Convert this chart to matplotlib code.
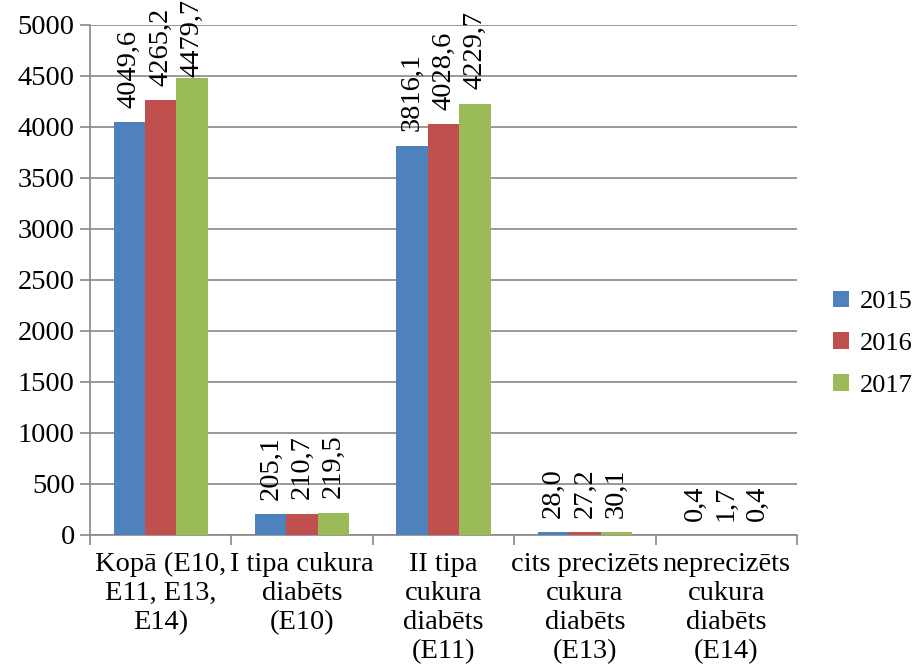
import matplotlib
matplotlib.use("Agg")
import matplotlib.pyplot as plt
import numpy as np

categories = [
    "Kopā (E10,\nE11, E13,\nE14)",
    "I tipa cukura\ndiabēts\n(E10)",
    "II tipa\ncukura\ndiabēts\n(E11)",
    "cits precizēts\ncukura\ndiabēts\n(E13)",
    "neprecizēts\ncukura\ndiabēts\n(E14)",
]
years = ["2015", "2016", "2017"]
values_2015 = [4049.6, 205.1, 3816.1, 28.0, 0.4]
values_2016 = [4265.2, 210.7, 4028.6, 27.2, 1.7]
values_2017 = [4479.7, 219.5, 4229.7, 30.1, 0.4]
yticks = [0, 500, 1000, 1500, 2000, 2500, 3000, 3500, 4000, 4500, 5000]

colors = ["#4F81BD", "#C0504D", "#9BBB59"]
grid_col = "#878787"
fs = 20.5

plt.rcParams["font.family"] = ["Liberation Serif", "DejaVu Serif"]
plt.rcParams["font.size"] = fs

fig = plt.figure(figsize=(9.14, 6.70), dpi=100)
ax = fig.add_axes([0.0985, 0.2015, 0.7735, 0.7612])

x = np.arange(len(categories))
w = 0.222
series = [values_2015, values_2016, values_2017]
for i, vals in enumerate(series):
    pos = x + (i - 1) * w
    ax.bar(pos, vals, width=w, color=colors[i], label=years[i], zorder=3)
    for p, v in zip(pos, vals):
        txt = f"{v:.1f}".replace(".", ",")
        # keep the top label inside the figure
        y = min(v + 140, 4490)
        ax.text(p, y, txt, rotation=90, ha="center", va="bottom",
                fontsize=fs, clip_on=False, zorder=4)

ax.set_xlim(-0.5, len(categories) - 0.5)
ax.set_ylim(0, 5000)
ax.set_yticks(yticks)
ax.yaxis.grid(True, color=grid_col, linewidth=1.2, zorder=0)

ax.set_xticks(x)
ax.set_xticklabels(categories, linespacing=1.22)
ax.set_xticks(np.arange(len(categories) + 1) - 0.5, minor=True)
ax.tick_params(axis="x", which="major", length=0, pad=12)
ax.tick_params(axis="x", which="minor", length=7, color=grid_col, width=1.2)
ax.tick_params(axis="y", length=7, color=grid_col, width=1.2, pad=4)

for s in ["top", "right"]:
    ax.spines[s].set_visible(False)
for s in ["left", "bottom"]:
    ax.spines[s].set_color(grid_col)
    ax.spines[s].set_linewidth(1.2)

ax.legend(loc="center left", bbox_to_anchor=(1.036, 0.375), frameon=False,
          handlelength=0.6, handleheight=0.6, labelspacing=0.72,
          handletextpad=0.4, borderaxespad=0.2, borderpad=0.2, fontsize=19)

fig.savefig("out.png", dpi=100)
